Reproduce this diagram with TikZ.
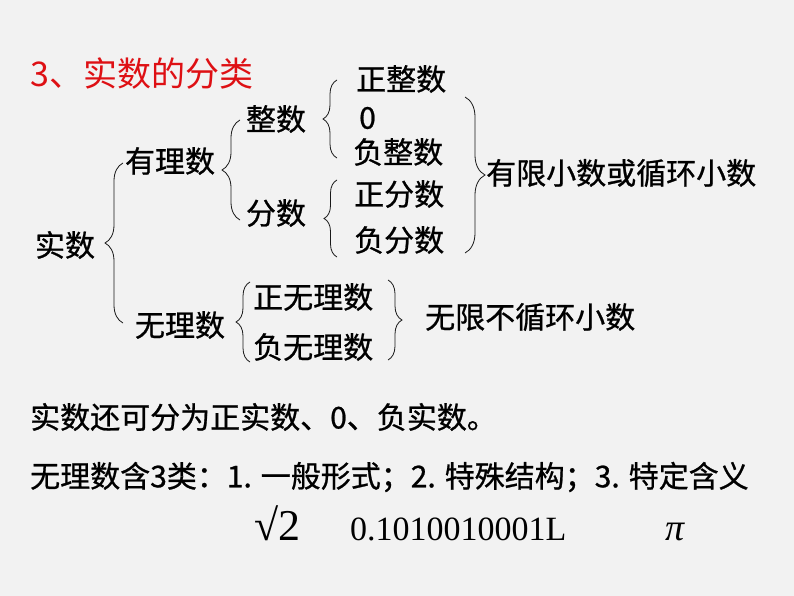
\documentclass[tikz,border=0pt]{standalone}
\usepackage{fontspec}
\usepackage{tikz}
\usetikzlibrary{positioning, decorations.pathreplacing}
\newfontfamily\cjk[FakeBold=0.8]{Noto Sans CJK SC}
\newfontfamily\cjktitle{Noto Sans CJK SC}
\newfontfamily\tnr{Liberation Serif}
\definecolor{bggray}{RGB}{242,242,242}
\definecolor{titlered}{RGB}{222,16,20}
\definecolor{ink}{RGB}{25,25,25}
\tikzset{
  lbl/.style={font=\cjk\fontsize{30}{36}\selectfont, text=black, inner sep=0pt},
  ttl/.style={font=\cjktitle\fontsize{34}{40}\selectfont, text=titlered,
    inner sep=0pt, anchor=west},
  brc/.style={decorate, decoration={brace, amplitude=#1},
    line width=0.8pt, draw=ink},
  numtxt/.style={font=\tnr\fontsize{34}{40}\selectfont, inner sep=0pt,
    anchor=base west}
}

\begin{document}
\begin{tikzpicture}[x=1pt, y=-1pt]
  \fill[bggray] (0,0) rectangle (794,596);
  \useasboundingbox (0,0) rectangle (794,596);

  \node[ttl] (title) at (30,74) {3、实数的分类};

  \node[lbl] (shishu) at (65,245) {实数};
  \node[lbl] (youli) at (170,161) {有理数};
  \node[lbl] (wuli) at (180,325) {无理数};
  \node[lbl] (zhengshu) at (276,119) {整数};
  \node[lbl] (fenshu) at (276,213) {分数};
  \node[lbl, anchor=west] (zzs) at (356,79) {正整数};
  \node[lbl, anchor=west] (zero) at (359,118) {0};
  \node[lbl, anchor=west] (fzs) at (353,152) {负整数};
  \node[lbl, anchor=west] (zfs) at (354,194) {正分数};
  \node[lbl, anchor=west] (ffs) at (354,240) {负分数};
  \node[lbl, anchor=west] (youxian) at (486,173) {有限小数或循环小数};
  \node[lbl, anchor=west] (zwl) at (253,297) {正无理数};
  \node[lbl, anchor=west] (fwl) at (253,347) {负无理数};
  \node[lbl, anchor=west] (wuxian) at (425,317) {无限不循环小数};

  % braces
  \draw[brc=18] (123,323) -- (123,163);
  \draw[brc=18] (240,220) -- (240,120);
  \draw[brc=14] (337,158) -- (337,80);
  \draw[brc=13] (337,257) -- (337,180);
  \draw[brc=20] (465,97) -- (465,253);
  \draw[brc=14] (250,362) -- (250,282);
  \draw[brc=14] (388,280) -- (388,360);

  \node[lbl, anchor=west] (line1) at (30,417) {实数还可分为正实数、0、负实数。};
  \node[lbl, anchor=west] (line2) at (30,477) {无理数含3类：1. 一般形式；2. 特殊结构；3. 特定含义};

  \node[numtxt, font=\tnr\fontsize{44}{48}\selectfont] (root) at (254,540) {√2};
  \node[numtxt] (decimal) at (350,540) {0.1010010001L};
  \node[numtxt, font=\tnr\itshape\fontsize{38}{42}\selectfont] (pinum) at (665,540) {π};
\end{tikzpicture}
\end{document}
